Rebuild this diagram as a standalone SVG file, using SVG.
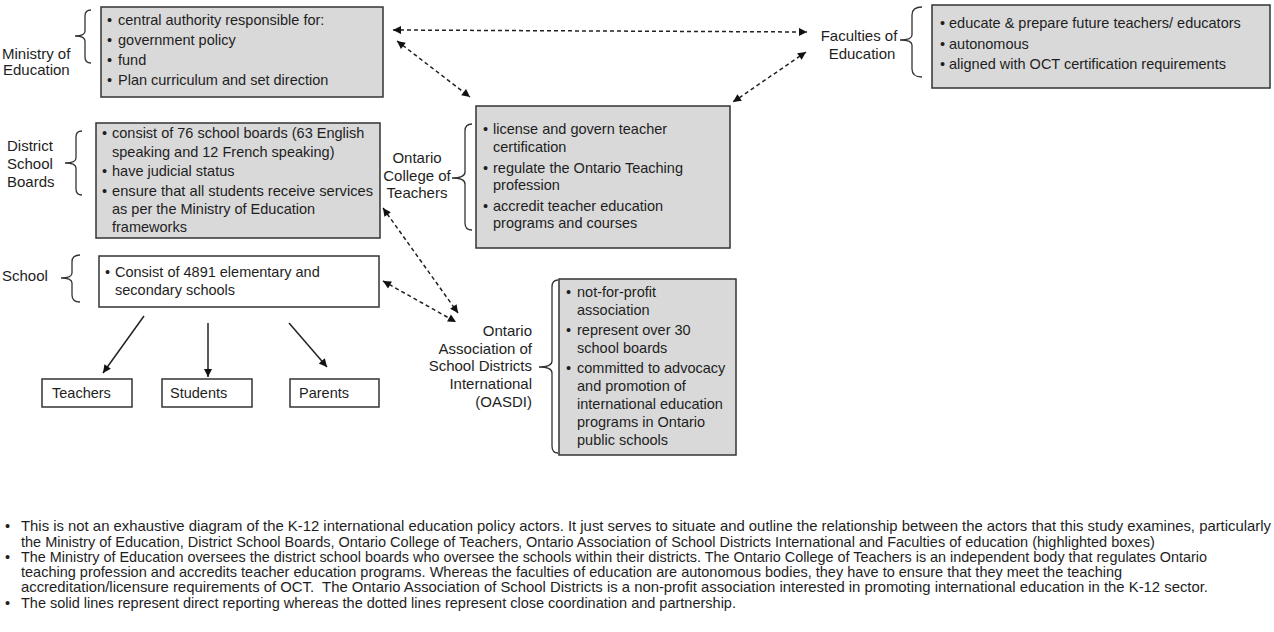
<svg xmlns="http://www.w3.org/2000/svg" width="1274" height="632" viewBox="0 0 1274 632">
<style>
  text { font-family: "Liberation Sans", Arial, sans-serif; fill: #1e1e1e; }
  .lbl { font-size: 15px; }
  .bt { font-size: 14.5px; }
  .fn { font-size: 14.5px; }
  .box { fill: #d9d9d9; stroke: #333; stroke-width: 1.5; }
  .wbox { fill: #fff; stroke: #333; stroke-width: 1.5; }
  .brace { fill: none; stroke: #333; stroke-width: 1.3; }
  .dash { fill: none; stroke: #222; stroke-width: 1.5; stroke-dasharray: 4 3; marker-start: url(#ah); marker-end: url(#ah); }
  .solid { fill: none; stroke: #222; stroke-width: 1.5; marker-end: url(#ah); }
</style>
<defs>
  <marker id="ah" viewBox="0 0 10 10" refX="10" refY="5" markerUnits="userSpaceOnUse" markerWidth="10" markerHeight="8" orient="auto-start-reverse">
    <path d="M0,0 L10,5 L0,10 z" fill="#111"/>
  </marker>
</defs>
<rect width="1274" height="632" fill="#fff"/>

<g id="ministry">
  <rect class="box" x="101" y="7" width="282" height="90"/>
  <path class="brace" d="M91,10 Q85,10 85,16 L85,31 Q85,36 75,36 Q85,36 85,41 L85,57 Q85,63 91,63"/>
  <text class="lbl" x="2" y="59">Ministry of</text>
  <text class="lbl" x="3" y="75">Education</text>
  <text class="bt" x="107" y="25">•</text><text class="bt" x="118" y="25">central authority responsible for:</text>
  <text class="bt" x="107" y="45">•</text><text class="bt" x="118" y="45">government policy</text>
  <text class="bt" x="107" y="65">•</text><text class="bt" x="118" y="65">fund</text>
  <text class="bt" x="107" y="85">•</text><text class="bt" x="118" y="85">Plan curriculum and set direction</text>
</g>

<g id="district-school-boards">
  <rect class="box" x="96" y="123" width="284" height="115"/>
  <path class="brace" d="M82,131 Q76,131 76,137 L76,158 Q76,163 65,163 Q76,163 76,168 L76,189 Q76,195 82,195"/>
  <text class="lbl" x="7" y="151">District</text>
  <text class="lbl" x="7" y="169">School</text>
  <text class="lbl" x="7" y="187">Boards</text>
  <text class="bt" x="102" y="138">•</text><text class="bt" x="112" y="138">consist of 76 school boards (63 English</text>
  <text class="bt" x="112" y="157">speaking and 12 French speaking)</text>
  <text class="bt" x="102" y="176">•</text><text class="bt" x="112" y="176">have judicial status</text>
  <text class="bt" x="102" y="196">•</text><text class="bt" x="112" y="196" textLength="261" lengthAdjust="spacingAndGlyphs">ensure that all students receive services</text>
  <text class="bt" x="112" y="214">as per the Ministry of Education</text>
  <text class="bt" x="112" y="232">frameworks</text>
</g>

<g id="school">
  <rect class="wbox" x="99" y="256" width="280" height="51"/>
  <path class="brace" d="M80,255 Q72,255 72,262 L72,273 Q72,278 61,278 Q72,278 72,283 L72,295 Q72,302 80,302"/>
  <text class="lbl" x="2" y="281">School</text>
  <text class="bt" x="105" y="277">•</text><text class="bt" x="115" y="277">Consist of 4891 elementary and</text>
  <text class="bt" x="115" y="295">secondary schools</text>
</g>

<g id="teachers">
  <rect class="wbox" x="42" y="379" width="90" height="28"/>
  <text class="bt" x="52" y="398">Teachers</text>
</g>
<g id="students">
  <rect class="wbox" x="162" y="379" width="90" height="28"/>
  <text class="bt" x="170" y="398">Students</text>
</g>
<g id="parents">
  <rect class="wbox" x="290" y="379" width="89" height="28"/>
  <text class="bt" x="299" y="398">Parents</text>
</g>

<g id="ontario-college-of-teachers">
  <rect class="box" x="476" y="106" width="254" height="142"/>
  <path class="brace" d="M472,124 Q465,124 465,131 L465,172 Q465,178 452,178 Q465,178 465,184 L465,223 Q465,230 472,230"/>
  <text class="lbl" x="417" y="163" text-anchor="middle">Ontario</text>
  <text class="lbl" x="417" y="181" text-anchor="middle">College of</text>
  <text class="lbl" x="417" y="198" text-anchor="middle">Teachers</text>
  <text class="bt" x="483" y="134">•</text><text class="bt" x="493" y="134">license and govern teacher</text>
  <text class="bt" x="493" y="152">certification</text>
  <text class="bt" x="483" y="173">•</text><text class="bt" x="493" y="173">regulate the Ontario Teaching</text>
  <text class="bt" x="493" y="190">profession</text>
  <text class="bt" x="483" y="211">•</text><text class="bt" x="493" y="211">accredit teacher education</text>
  <text class="bt" x="493" y="228">programs and courses</text>
</g>

<g id="faculties-of-education">
  <rect class="box" x="932" y="5" width="338" height="83"/>
  <path class="brace" d="M922,7 Q912,7 912,15 L912,35 Q912,40 900,40 Q912,40 912,45 L912,69 Q912,77 922,77"/>
  <text class="lbl" x="859" y="41" text-anchor="middle">Faculties of</text>
  <text class="lbl" x="862" y="59" text-anchor="middle">Education</text>
  <text class="bt" x="940" y="28">•</text><text class="bt" x="949" y="28">educate &amp; prepare future teachers/ educators</text>
  <text class="bt" x="940" y="49">•</text><text class="bt" x="949" y="49">autonomous</text>
  <text class="bt" x="940" y="69">•</text><text class="bt" x="949" y="69">aligned with OCT certification requirements</text>
</g>

<g id="oasdi">
  <rect class="box" x="559" y="279" width="177" height="176"/>
  <path class="brace" d="M558,280 Q552,280 552,287 L552,361 Q552,367 539,367 Q552,367 552,373 L552,446 Q552,453 558,453"/>
  <text class="lbl" x="532" y="336" text-anchor="end">Ontario</text>
  <text class="lbl" x="532" y="354" text-anchor="end">Association of</text>
  <text class="lbl" x="532" y="371" text-anchor="end">School Districts</text>
  <text class="lbl" x="532" y="389" text-anchor="end">International</text>
  <text class="lbl" x="532" y="407" text-anchor="end">(OASDI)</text>
  <text class="bt" x="566" y="297">•</text><text class="bt" x="577" y="297">not-for-profit</text>
  <text class="bt" x="577" y="315">association</text>
  <text class="bt" x="566" y="335">•</text><text class="bt" x="577" y="335">represent over 30</text>
  <text class="bt" x="577" y="353">school boards</text>
  <text class="bt" x="566" y="373">•</text><text class="bt" x="577" y="373">committed to advocacy</text>
  <text class="bt" x="577" y="391">and promotion of</text>
  <text class="bt" x="577" y="409">international education</text>
  <text class="bt" x="577" y="427">programs in Ontario</text>
  <text class="bt" x="577" y="445">public schools</text>
</g>

<g id="connectors">
  <line class="dash" x1="393" y1="30" x2="807" y2="32"/>
  <line class="dash" x1="397" y1="41" x2="470" y2="97"/>
  <line class="dash" x1="806" y1="52" x2="733" y2="102"/>
  <line class="dash" x1="383" y1="208" x2="458" y2="313"/>
  <line class="dash" x1="383" y1="281" x2="456" y2="322"/>
  <line class="solid" x1="144" y1="316" x2="103" y2="373"/>
  <line class="solid" x1="208" y1="323" x2="208" y2="377"/>
  <line class="solid" x1="289" y1="323" x2="327" y2="367"/>
</g>

<g id="notes">
  <text class="fn" x="5" y="531">•</text>
  <text class="fn" x="21" y="531" textLength="1250" lengthAdjust="spacingAndGlyphs">This is not an exhaustive diagram of the K-12 international education policy actors. It just serves to situate and outline the relationship between the actors that this study examines, particularly</text>
  <text class="fn" x="21" y="547">the Ministry of Education, District School Boards, Ontario College of Teachers, Ontario Association of School Districts International and Faculties of education (highlighted boxes)</text>
  <text class="fn" x="5" y="562">•</text>
  <text class="fn" x="21" y="562" textLength="1186" lengthAdjust="spacingAndGlyphs">The Ministry of Education oversees the district school boards who oversee the schools within their districts. The Ontario College of Teachers is an independent body that regulates Ontario</text>
  <text class="fn" x="21" y="577">teaching profession and accredits teacher education programs. Whereas the faculties of education are autonomous bodies, they have to ensure that they meet the teaching</text>
  <text class="fn" x="21" y="592" textLength="1187" lengthAdjust="spacingAndGlyphs" xml:space="preserve">accreditation/licensure requirements of OCT.  The Ontario Association of School Districts is a non-profit association interested in promoting international education in the K-12 sector.</text>
  <text class="fn" x="5" y="608">•</text>
  <text class="fn" x="21" y="608">The solid lines represent direct reporting whereas the dotted lines represent close coordination and partnership.</text>
</g>
</svg>
